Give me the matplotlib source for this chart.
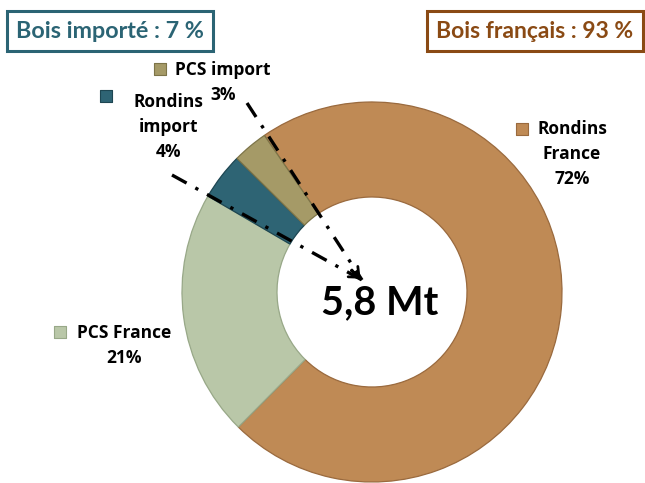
import matplotlib
matplotlib.use("Agg")
import matplotlib.pyplot as plt

# ---- data ----
categories = ["Rondins France", "PCS France", "Rondins import", "PCS import"]
values = [72, 21, 4, 3]
label_lines = [["Rondins", "France"], ["PCS France"], ["Rondins", "import"], ["PCS import"]]
colors = ["#BF8A55", "#B9C7A8", "#2E6474", "#A59A67"]
edge_colors = ["#9A6A3E", "#98A888", "#1D4652", "#7D7448"]
total_label = "5,8 Mt"
import_label = "Bois importé : 7 %"
france_label = "Bois français : 93 %"

W, H = 645, 483
fig = plt.figure(figsize=(W / 100, H / 100), dpi=100)
ax = fig.add_axes([0, 0, 1, 1])

# pie (y axis inverted -> counterclock=True gives clockwise on screen)
cx, cy, R = 372, 292, 190
wedges, _ = ax.pie(values, colors=colors, center=(cx, cy), radius=R,
                   startangle=-124.5, counterclock=True,
                   wedgeprops=dict(width=R * 0.5, linewidth=0.9),
                   frame=True)
for w, ec in zip(wedges, edge_colors):
    w.set_edgecolor(ec)
ax.set_xlim(0, W)
ax.set_ylim(H, 0)
ax.set_aspect("equal")
ax.axis("off")

# labels
label_font = dict(family=["Open Sans", "DejaVu Sans"], fontweight="bold", fontsize=12.5, color="black")
positions = [(572, 129), (124, 333), (168, 102), (223, 70)]
marker_pos = [(522, 129), (60, 332), (106, 96), (160, 69)]
line_gap = 25
for lines, v, (tx, ty), (mx, my), c, ec in zip(label_lines, values, positions, marker_pos, colors, edge_colors):
    all_lines = lines + [f"{v}%"]
    for i, ln in enumerate(all_lines):
        ax.text(tx, ty + i * line_gap, ln, ha="center", va="center", **label_font)
    ax.scatter([mx], [my], marker="s", s=80, color=c, edgecolor=ec, linewidth=0.8, zorder=5)

# dash-dot pointer lines
tip = (362, 280)
for start in [(247, 103), (172, 175)]:
    ax.plot([start[0], tip[0]], [start[1], tip[1]], color="black", lw=2.4,
            linestyle=(0, (5, 3, 1, 3)), solid_capstyle="butt", zorder=6)
    dx, dy = tip[0] - start[0], tip[1] - start[1]
    ax.annotate("", xy=tip, xytext=(tip[0] - dx * 0.06, tip[1] - dy * 0.06),
                arrowprops=dict(arrowstyle="->", color="black", lw=2.0,
                                mutation_scale=14), zorder=6)

# center total
ax.text(380, 303, total_label, ha="center", va="center", fontsize=28.5,
        fontweight="bold", family=["Lato", "DejaVu Sans"], color="black")

# boxes
teal = "#2B6474"
brown = "#8A4A14"
ax.text(110, 31, import_label, ha="center", va="center", fontsize=16.8,
        fontweight="bold", family=["Lato", "DejaVu Sans"], color=teal,
        bbox=dict(boxstyle="square,pad=0.4", fc="white", ec=teal, lw=2.2))
ax.text(535, 31, france_label, ha="center", va="center", fontsize=16.5,
        fontweight="bold", family=["Lato", "DejaVu Sans"], color=brown,
        bbox=dict(boxstyle="square,pad=0.4", fc="white", ec=brown, lw=2.2))

fig.savefig("out.png", dpi=100)
